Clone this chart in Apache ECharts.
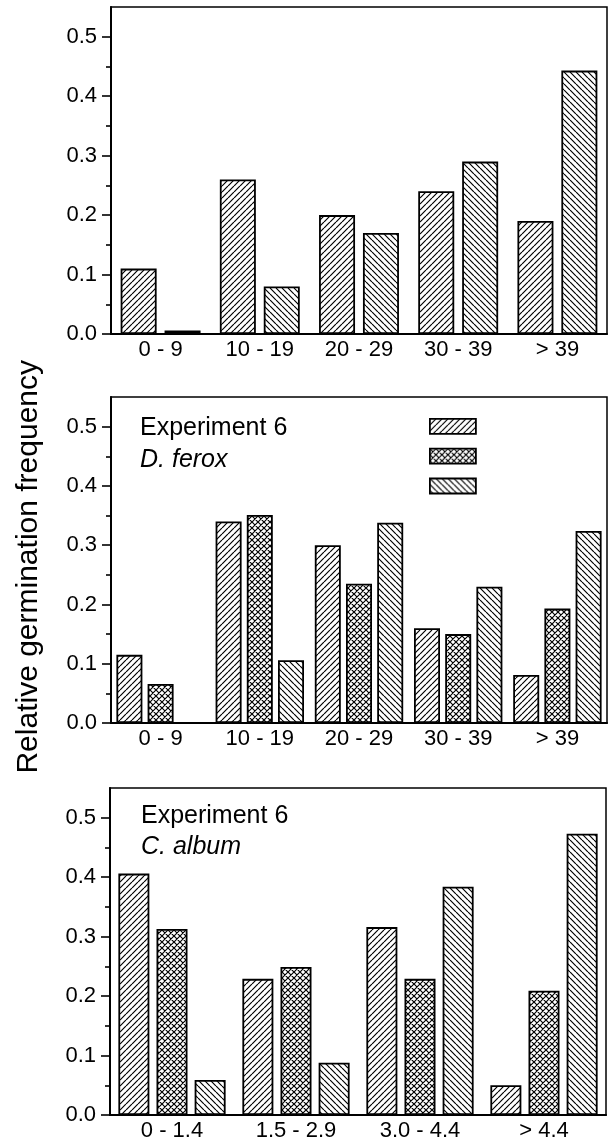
<!DOCTYPE html>
<html>
<head>
<meta charset="utf-8">
<script src="https://cdn.jsdelivr.net/npm/echarts@6/dist/echarts.min.js"></script>
<style>
  html, body { margin: 0; padding: 0; background: #fff; }
  #chart { width: 610px; height: 1143px; }
</style>
</head>
<body>
<div id="chart"></div>
<script>
"use strict";

// categories
var agesTop = ['0 - 9', '10 - 19', '20 - 29', '30 - 39', '> 39'];
var agesFerox = ['0 - 9', '10 - 19', '20 - 29', '30 - 39', '> 39'];
var sizesAlbum = ['0 - 1.4', '1.5 - 2.9', '3.0 - 4.4', '> 4.4'];

// top panel (two series)
var topFwd = [0.11, 0.26, 0.20, 0.24, 0.19];
var topBack = [0.006, 0.08, 0.17, 0.29, 0.443];

// Experiment 6, D. ferox
var feroxFwd = [0.115, 0.34, 0.30, 0.16, 0.081];
var feroxCross = [0.066, 0.351, 0.235, 0.15, 0.193];
var feroxBack = [0, 0.106, 0.338, 0.23, 0.324];

// Experiment 6, C. album
var albumFwd = [0.406, 0.229, 0.316, 0.05];
var albumCross = [0.313, 0.249, 0.229, 0.209];
var albumBack = [0.059, 0.088, 0.384, 0.473];

// y ticks
var yMajor = [0, 0.1, 0.2, 0.3, 0.4, 0.5];
var yMinor = [0.05, 0.15, 0.25, 0.35, 0.45];

var FONT = 'Arial, "Liberation Sans", Helvetica, sans-serif';

// hatch tiles drawn on small canvases
function hatch(kind) {
  var s = 6;
  var c = document.createElement('canvas');
  c.width = s; c.height = s;
  var ctx = c.getContext('2d');
  ctx.fillStyle = '#fff';
  ctx.fillRect(0, 0, s, s);
  ctx.strokeStyle = '#000';
  ctx.lineWidth = 1.2;
  ctx.beginPath();
  for (var k = -1; k <= 1; k++) {
    if (kind === 'fwd' || kind === 'cross') {
      ctx.moveTo(k * s, s); ctx.lineTo(k * s + s, 0);
    }
    if (kind === 'back' || kind === 'cross') {
      ctx.moveTo(k * s, 0); ctx.lineTo(k * s + s, s);
    }
  }
  ctx.stroke();
  return { image: c, repeat: 'repeat' };
}

var pFwd = hatch('fwd'), pBack = hatch('back'), pCross = hatch('cross');

function barStyle(p) {
  return { color: p, borderColor: '#000', borderWidth: 1.8 };
}

var grids = [
  { left: 111, right: 3, top: 7, height: 327 },
  { left: 111, right: 3, top: 397, height: 326 },
  { left: 110, right: 4, top: 788, height: 327 }
];

var xAxes = [], yAxes = [];
[agesTop, agesFerox, sizesAlbum].forEach(function (cats, i) {
  xAxes.push({
    type: 'category', gridIndex: i, data: cats,
    axisLine: { lineStyle: { color: '#000', width: 2 } },
    axisTick: { show: false },
    axisLabel: { color: '#000', fontSize: 22, fontFamily: FONT, margin: 5 }
  });
  yAxes.push({
    type: 'value', gridIndex: i, position: 'left', min: 0, max: 0.55, interval: 0.1,
    axisLine: { show: true, lineStyle: { color: '#000', width: 2 } },
    axisTick: { show: true, length: 9, customValues: yMajor, lineStyle: { color: '#000', width: 1.6 } },
    axisLabel: {
      color: '#000', fontSize: 22, fontFamily: FONT, margin: 14,
      customValues: yMajor,
      formatter: function (v) { return v.toFixed(1); }
    },
    splitLine: { show: false }
  });
  yAxes.push({
    type: 'value', gridIndex: i, position: 'left', offset: 0, min: 0, max: 0.55, interval: 0.1,
    axisLine: { show: false },
    axisTick: { show: true, length: 5, customValues: yMinor, lineStyle: { color: '#000', width: 1.6 } },
    axisLabel: { show: false },
    splitLine: { show: false }
  });
});

var series = [
  { name: 'top /', type: 'bar', xAxisIndex: 0, yAxisIndex: 0, data: topFwd,
    barWidth: 36, barGap: '22%', itemStyle: barStyle(pFwd) },
  { name: 'top \\', type: 'bar', xAxisIndex: 0, yAxisIndex: 0, data: topBack,
    barWidth: 36, barGap: '22%', itemStyle: barStyle(pBack) },

  { name: 'ferox 1', type: 'bar', xAxisIndex: 1, yAxisIndex: 2, data: feroxFwd,
    barWidth: 26, barGap: '20%', itemStyle: barStyle(pFwd) },
  { name: 'ferox 2', type: 'bar', xAxisIndex: 1, yAxisIndex: 2, data: feroxCross,
    barWidth: 26, barGap: '20%', itemStyle: barStyle(pCross) },
  { name: 'ferox 3', type: 'bar', xAxisIndex: 1, yAxisIndex: 2, data: feroxBack,
    barWidth: 26, barGap: '20%', itemStyle: barStyle(pBack) },

  { name: 'album 1', type: 'bar', xAxisIndex: 2, yAxisIndex: 4, data: albumFwd,
    barWidth: 31, barGap: '23%', itemStyle: barStyle(pFwd) },
  { name: 'album 2', type: 'bar', xAxisIndex: 2, yAxisIndex: 4, data: albumCross,
    barWidth: 31, barGap: '23%', itemStyle: barStyle(pCross) },
  { name: 'album 3', type: 'bar', xAxisIndex: 2, yAxisIndex: 4, data: albumBack,
    barWidth: 31, barGap: '23%', itemStyle: barStyle(pBack) }
];

var chart = echarts.init(document.getElementById('chart'), null, { renderer: 'canvas' });

var option = {
  backgroundColor: '#ffffff',
  animation: false,
  grid: grids.map(function (g) {
    return Object.assign({ show: true, borderColor: '#000', borderWidth: 1.5, backgroundColor: 'transparent' }, g);
  }),
  xAxis: xAxes,
  yAxis: yAxes,
  legend: {
    data: ['ferox 1', 'ferox 2', 'ferox 3'],
    orient: 'vertical', left: 424, top: 413,
    icon: 'rect', itemWidth: 46, itemHeight: 15, itemGap: 13,
    selectedMode: false,
    formatter: function () { return ''; },
    itemStyle: { borderColor: '#000', borderWidth: 1.8 }
  },
  graphic: [
    { type: 'text', left: 14, top: 360,
      rotation: Math.PI / 2,
      style: { text: 'Relative germination frequency', font: '30px ' + FONT, fill: '#000' } },
    { type: 'text', x: 140, y: 428,
      style: { text: 'Experiment 6', font: '25px ' + FONT, fill: '#000', verticalAlign: 'middle' } },
    { type: 'text', x: 140, y: 460,
      style: { text: 'D. ferox', font: 'italic 25px ' + FONT, fill: '#000', verticalAlign: 'middle' } },
    { type: 'text', x: 141, y: 816,
      style: { text: 'Experiment 6', font: '25px ' + FONT, fill: '#000', verticalAlign: 'middle' } },
    { type: 'text', x: 141, y: 847,
      style: { text: 'C. album', font: 'italic 25px ' + FONT, fill: '#000', verticalAlign: 'middle' } }
  ],
  series: series
};

chart.setOption(option);
</script>
</body>
</html>
